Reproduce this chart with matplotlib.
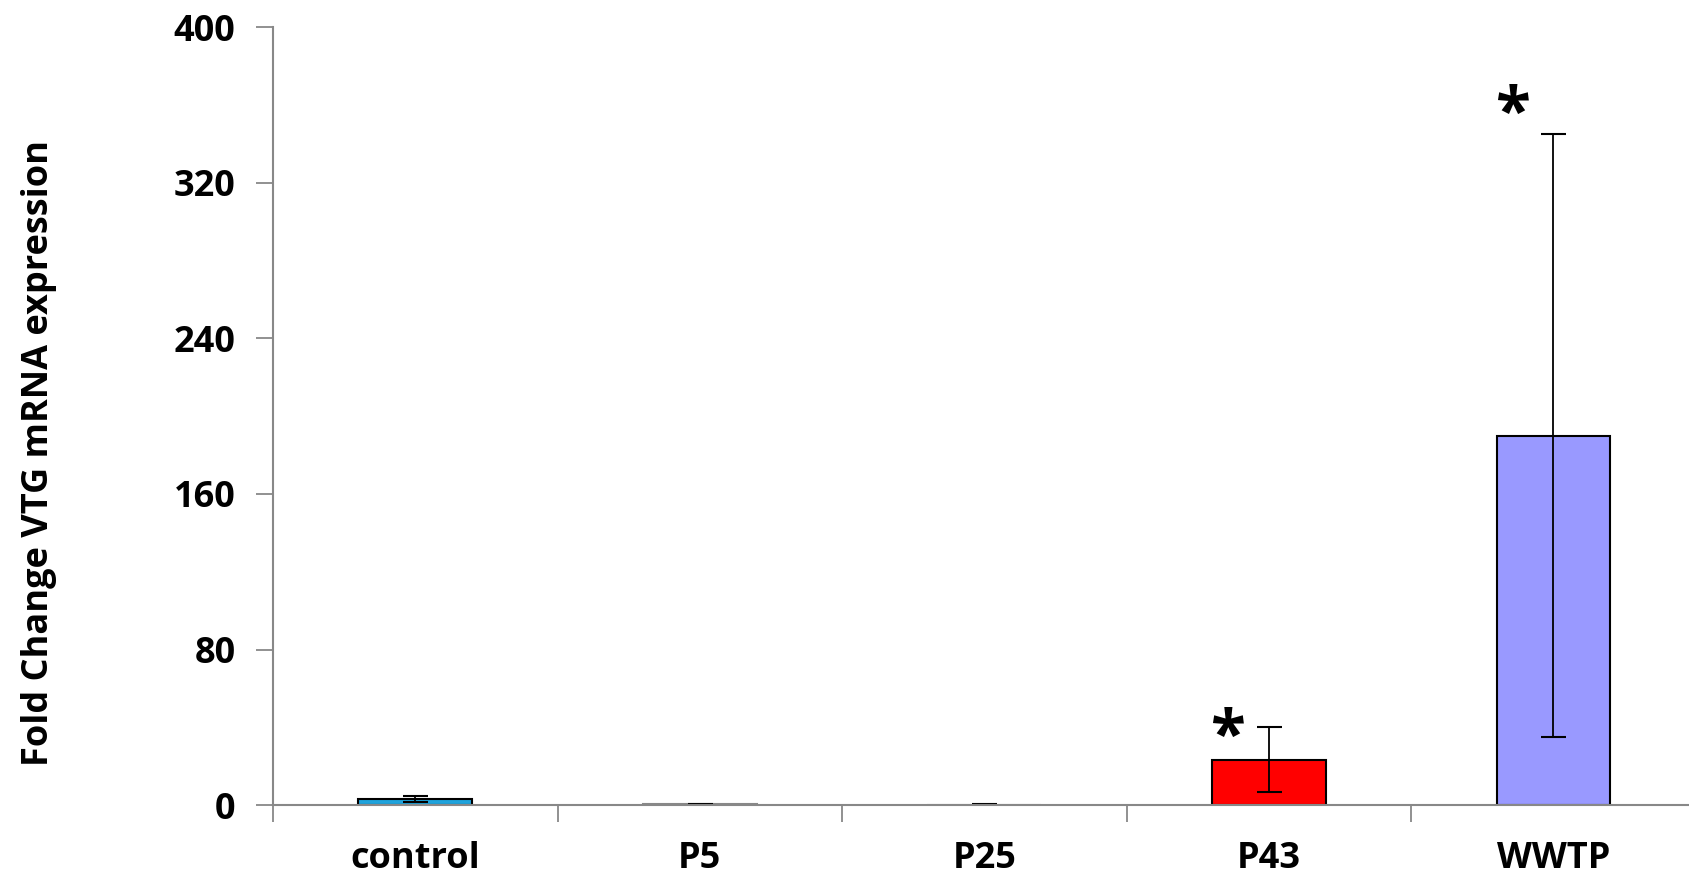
import matplotlib.pyplot as plt
import numpy as np

plt.rcParams['font.family'] = ['Open Sans', 'DejaVu Sans']

groups = ['control', 'P5', 'P25', 'P43', 'WWTP']
fold_change = [3.3, 0.5, 0.3, 23.3, 190.0]
err = [1.6, 0.2, 0.2, 16.8, 155.0]
colors = ['#1fa3dc', '#bfbfbf', '#bfbfbf', '#ff0000', '#9999ff']
edges = ['black', '#888888', '#888888', 'black', 'black']
# significance marks: (group index, height of star)
star_pos = [(3, 34), (4, 354)]

fig = plt.figure(figsize=(16.89, 8.77), dpi=100)
ax = fig.add_axes([0.1616, 0.082, 0.8424, 0.887])

x = np.arange(len(groups))
ax.bar(x, fold_change, width=0.4, color=colors, edgecolor=edges, linewidth=1.5,
       yerr=err, error_kw=dict(ecolor='black', elinewidth=1.3, capsize=9, capthick=1.5),
       zorder=2)

for i, h in star_pos:
    ax.text(i - 0.145, h, '*', ha='center', va='center',
            fontsize=46, fontweight='bold')

ax.set_xlim(-0.5, 4.5)
ax.set_ylim(0, 400)
ax.set_yticks(np.arange(0, 401, 80))
ax.set_xticks(x)
ax.set_xticklabels(groups)
ax.set_xticks(np.arange(-0.5, 5, 1), minor=True)
ax.tick_params(axis='x', which='major', length=0, pad=26)
ax.tick_params(axis='x', which='minor', length=12, color='#888888', width=1.3)
ax.tick_params(axis='y', length=12, color='#888888', width=1.3, pad=15)
for lab in ax.get_xticklabels() + ax.get_yticklabels():
    lab.set_fontsize(26)
    lab.set_fontweight('bold')

for sp in ['top', 'right']:
    ax.spines[sp].set_visible(False)
for sp in ['left', 'bottom']:
    ax.spines[sp].set_color('#888888')
    ax.spines[sp].set_linewidth(1.5)
ax.spines['bottom'].set_zorder(3)

ax.set_ylabel('Fold Change VTG mRNA expression', fontsize=26, fontweight='bold')
ax.yaxis.set_label_coords(-0.152, 0.452)

fig.savefig('out.png', dpi=100)
